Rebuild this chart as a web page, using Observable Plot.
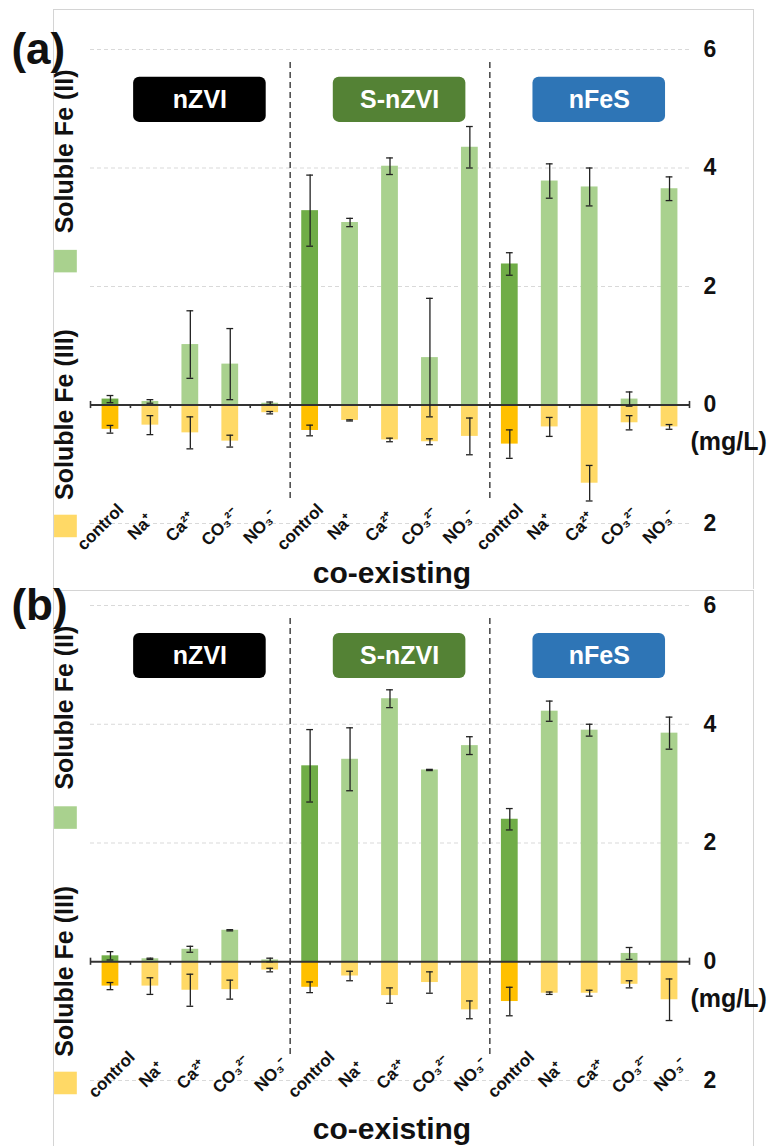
<!DOCTYPE html>
<html><head><meta charset="utf-8">
<script src="https://cdn.jsdelivr.net/npm/d3@7"></script>
<script src="https://cdn.jsdelivr.net/npm/@observablehq/plot@0.6"></script>
<style>
html,body{margin:0;padding:0;background:#fff;}
#root{position:relative;width:772px;height:1146px;overflow:hidden;font-family:"Liberation Sans",Arial,sans-serif;}
.panel{position:absolute;left:0;width:772px;}
.panel svg{position:absolute;left:0;top:0;}
.frame{position:absolute;border:1px solid #d4d4d4;border-bottom:none;box-sizing:border-box;}
</style></head><body><div id="root"></div>
<script>
// ---------- data ----------
const materials = ["nZVI", "S-nZVI", "nFeS"];
const categories = ["control", "Na⁺", "Ca²⁺", "CO₃²⁻", "NO₃⁻"];
const yTicks = [6, 4, 2, 0, -2];
const gridTicks = [6, 4, 2, -2];

// panel (a)
const a_fe2 = [0.10, 0.06, 1.02, 0.69, 0.03,  3.28, 3.08, 4.03, 0.80, 4.35,  2.38, 3.78, 3.68, 0.10, 3.65];
const a_fe2err = [0.06, 0.03, 0.57, 0.60, 0.02,  0.60, 0.07, 0.14, 1.00, 0.35,  0.19, 0.29, 0.32, 0.12, 0.20];
const a_fe3 = [0.41, 0.34, 0.47, 0.61, 0.13,  0.43, 0.26, 0.59, 0.62, 0.53,  0.66, 0.37, 1.32, 0.30, 0.37];
const a_fe3err = [0.065, 0.16, 0.27, 0.10, 0.02,  0.09, 0.01, 0.03, 0.05, 0.31,  0.24, 0.16, 0.30, 0.12, 0.04];

// panel (b)
const b_fe2 = [0.10, 0.05, 0.21, 0.53, 0.03,  3.30, 3.41, 4.43, 3.23, 3.64,  2.40, 4.22, 3.90, 0.14, 3.85];
const b_fe2err = [0.07, 0.01, 0.05, 0.01, 0.03,  0.61, 0.53, 0.15, 0.01, 0.15,  0.18, 0.17, 0.10, 0.10, 0.27];
const b_fe3 = [0.41, 0.41, 0.48, 0.47, 0.14,  0.43, 0.24, 0.57, 0.35, 0.81,  0.67, 0.53, 0.53, 0.38, 0.64];
const b_fe3err = [0.06, 0.14, 0.27, 0.16, 0.03,  0.09, 0.08, 0.13, 0.18, 0.15,  0.24, 0.02, 0.05, 0.06, 0.35];

// ---------- styles ----------
const FONT = "Liberation Sans, Arial, sans-serif";
const C = {
  fe2Control: "#70AD47", fe2: "#A9D18E",
  fe3Control: "#FFC000", fe3: "#FFD966",
  box: {"nZVI": "#000000", "S-nZVI": "#548235", "nFeS": "#2E75B6"},
  axis: "#333333", grid: "#d9d9d9", sep: "#444444", err: "#222222"
};

function rowsOf(fe2, fe2err, fe3, fe3err) {
  const rows = [];
  materials.forEach((m, mi) => categories.forEach((c, ci) => {
    const i = mi * 5 + ci;
    rows.push({i, material: m, cat: c, ci, fe2: fe2[i], e2: fe2err[i], fe3: -fe3[i], e3: fe3err[i]});
  }));
  return rows;
}

function frameOpts(height, marginTop, marginBottom) {
  return {
    width: 772, height,
    marginLeft: 90, marginRight: 83, marginTop, marginBottom,
    x: {type: "linear", domain: [0, 15], axis: null},
    y: {domain: [-2, 6], axis: null},
    style: {fontFamily: FONT, background: "transparent", overflow: "visible"}
  };
}

function panel({label, rows, height, marginTop, marginBottom, titleY}) {
  const hw = 0.21, cap = 0.085;
  return Plot.plot({
    ...frameOpts(height, marginTop, marginBottom),
    color: {type: "identity"},
    marks: [
      Plot.ruleY(gridTicks, {stroke: C.grid, strokeWidth: 1.2, strokeDasharray: "4,3"}),
      Plot.rectY(rows, {x1: d => d.i + 0.5 - hw, x2: d => d.i + 0.5 + hw, y1: 0, y2: "fe2",
        fill: d => d.ci === 0 ? C.fe2Control : C.fe2}),
      Plot.rectY(rows, {x1: d => d.i + 0.5 - hw, x2: d => d.i + 0.5 + hw, y1: 0, y2: "fe3",
        fill: d => d.ci === 0 ? C.fe3Control : C.fe3}),
      Plot.ruleX([5, 10], {y1: 5.78, y2: -1.62, stroke: C.sep, strokeWidth: 1.5, strokeDasharray: "6,4"}),
      Plot.ruleY([0], {stroke: C.axis, strokeWidth: 2.2}),
      Plot.ruleX(d3.range(16), {y1: d => (d === 0 || d === 15) ? 0.06 : 0, y2: -0.06, stroke: C.axis, strokeWidth: 1.6}),
      Plot.ruleX(rows, {x: d => d.i + 0.5, y1: d => d.fe2 - d.e2, y2: d => d.fe2 + d.e2, stroke: C.err, strokeWidth: 1.3}),
      Plot.ruleY(rows, {y: d => d.fe2 + d.e2, x1: d => d.i + 0.5 - cap, x2: d => d.i + 0.5 + cap, stroke: C.err, strokeWidth: 1.3}),
      Plot.ruleY(rows, {y: d => d.fe2 - d.e2, x1: d => d.i + 0.5 - cap, x2: d => d.i + 0.5 + cap, stroke: C.err, strokeWidth: 1.3}),
      Plot.ruleX(rows, {x: d => d.i + 0.5, y1: d => d.fe3 - d.e3, y2: d => d.fe3 + d.e3, stroke: C.err, strokeWidth: 1.3}),
      Plot.ruleY(rows, {y: d => d.fe3 + d.e3, x1: d => d.i + 0.5 - cap, x2: d => d.i + 0.5 + cap, stroke: C.err, strokeWidth: 1.3}),
      Plot.ruleY(rows, {y: d => d.fe3 - d.e3, x1: d => d.i + 0.5 - cap, x2: d => d.i + 0.5 + cap, stroke: C.err, strokeWidth: 1.3}),
      Plot.rect(materials, {x1: (d, i) => i * 5 + 1.08, x2: (d, i) => i * 5 + 4.4, y1: 4.77, y2: 5.53, rx: 6,
        fill: d => C.box[d]}),
      Plot.text(materials, {x: (d, i) => i * 5 + 2.74, y: 5.15, text: d => d, fill: "white",
        fontSize: 25, fontWeight: "bold", lineAnchor: "middle"}),
      Plot.text(yTicks, {x: 15, y: d => d, text: d => String(Math.abs(d)), dx: 14, textAnchor: "start",
        fontSize: 23, fontWeight: "bold", fill: "#111", lineAnchor: "middle"}),
      Plot.text(["(mg/L)"], {x: 15, y: -0.62, text: d => d, dx: 1, textAnchor: "start",
        fontSize: 25, fontWeight: "bold", fill: "#111", lineAnchor: "middle"}),
      Plot.text(["co-existing"], {x: 7.55, y: titleY, text: d => d, fontSize: 30, fontWeight: "bold",
        fill: "#111", lineAnchor: "middle"}),
      Plot.text(["Soluble Fe (II)"], {x: -0.63, y: 4.28, text: d => d, rotate: -90, fontSize: 25,
        fontWeight: "bold", fill: "#111", lineAnchor: "middle"}),
      Plot.rect([C.fe2], {x1: -0.9, x2: -0.33, y1: 2.23, y2: 2.61, fill: d => d}),
      Plot.text(["Soluble Fe (III)"], {x: -0.63, y: -0.16, text: d => d, rotate: -90, fontSize: 25,
        fontWeight: "bold", fill: "#111", lineAnchor: "middle"}),
      Plot.rect([C.fe3], {x1: -0.9, x2: -0.33, y1: -1.86, y2: -2.24, fill: d => d}),
      Plot.text([label], {x: -1.98, y: 5.75, text: d => d, textAnchor: "start", lineAnchor: "bottom",
        fontSize: 44, fontWeight: "bold", fill: "#111"})
    ]
  });
}

// separate overlay plot (same scales) holding only the 45°-rotated category labels
function labelLayer({rows, height, marginTop, marginBottom, labelY, labelDx}) {
  return Plot.plot({
    ...frameOpts(height, marginTop, marginBottom),
    marks: [
      Plot.text(rows, {x: d => d.i + 0.5 + labelDx, y: () => labelY, text: "cat", rotate: -45,
        fontSize: 17, fontWeight: "bold", fill: "#111", textAnchor: "middle", lineAnchor: "middle"})
    ]
  });
}

const root = document.getElementById("root");
function addFrame(left, top, width, height) {
  const f = document.createElement("div");
  f.className = "frame";
  Object.assign(f.style, {left: left + "px", top: top + "px", width: width + "px", height: height + "px"});
  root.appendChild(f);
}
addFrame(53, 9, 701, 580);
addFrame(53, 590, 701, 600);

const specA = {label: "(a)", rows: rowsOf(a_fe2, a_fe2err, a_fe3, a_fe3err),
  height: 588, marginTop: 49, marginBottom: 65, labelY: -2.06, labelDx: -0.25, titleY: -2.85};
const specB = {label: "(b)", rows: rowsOf(b_fe2, b_fe2err, b_fe3, b_fe3err),
  height: 558, marginTop: 17, marginBottom: 66, labelY: -1.90, labelDx: 0.03, titleY: -2.83};

[[specA, 0], [specB, 588]].forEach(([spec, top]) => {
  const div = document.createElement("div");
  div.className = "panel";
  div.style.top = top + "px";
  div.style.height = spec.height + "px";
  div.appendChild(panel(spec));
  div.appendChild(labelLayer(spec));
  root.appendChild(div);
});
</script>
</body></html>
